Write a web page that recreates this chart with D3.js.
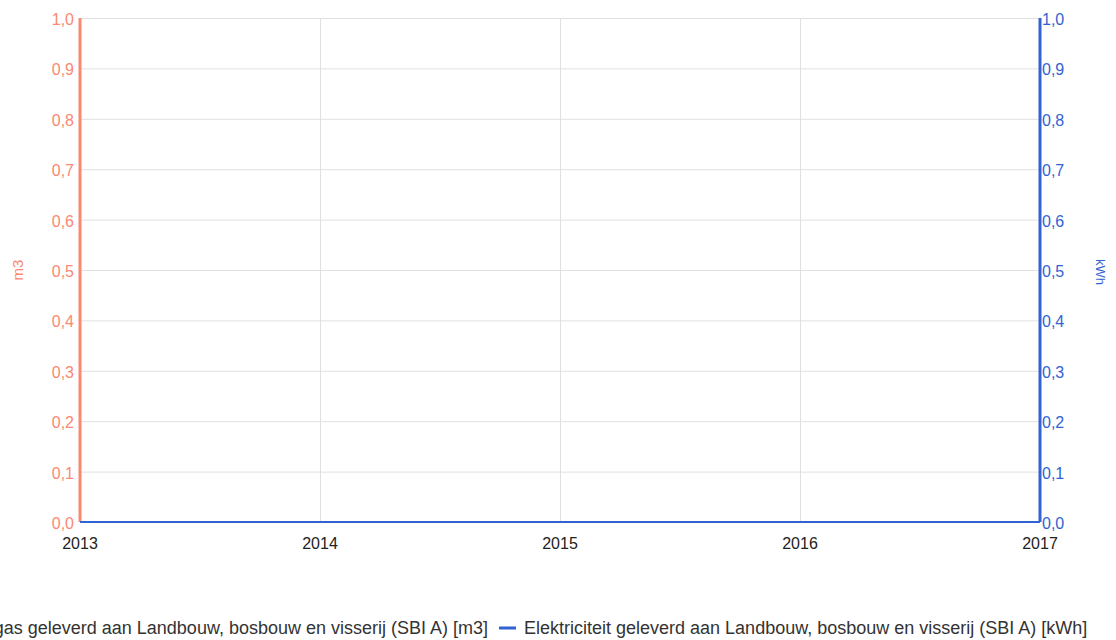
<!DOCTYPE html>
<html>
<head>
<meta charset="utf-8">
<script src="https://cdn.jsdelivr.net/npm/d3@7"></script>
<style>
  body { margin: 0; background: #fff; }
  text { font-family: "Liberation Sans", Arial, sans-serif; }
</style>
</head>
<body>
<svg id="chart" width="1116" height="640"></svg>
<script>
// data
const years = [2013, 2014, 2015, 2016, 2017];
const gasValues = [0, 0, 0, 0, 0];
const elecValues = [0, 0, 0, 0, 0];
const yTicks = [0, 0.1, 0.2, 0.3, 0.4, 0.5, 0.6, 0.7, 0.8, 0.9, 1.0];
const gasName = "Aardgas geleverd aan Landbouw, bosbouw en visserij (SBI A) [m3]";
const elecName = "Elektriciteit geleverd aan Landbouw, bosbouw en visserij (SBI A) [kWh]";

const salmon = "#fa8872", blue = "#3263d2";
const margin = {top: 18, left: 80, right: 76, bottom: 118},
    width = 1116 - margin.left - margin.right,
    height = 640 - margin.top - margin.bottom;

const svg = d3.select("#chart");
const g = svg.append("g").attr("transform", `translate(${margin.left},${margin.top})`);

const x = d3.scaleLinear().domain([2013, 2017]).range([0, width]);
const yL = d3.scaleLinear().domain([0, 1]).range([height, 0]);
const yR = d3.scaleLinear().domain([0, 1]).range([height, 0]);
const fmt = d => d3.format(".1f")(d).replace(".", ",");

// grid
g.append("g").selectAll("line").data(yTicks).enter().append("line")
    .attr("x1", 0).attr("x2", width)
    .attr("y1", d => yL(d) + 0.5).attr("y2", d => yL(d) + 0.5)
    .attr("stroke", "#e0e0e0");
g.append("g").selectAll("line").data(years).enter().append("line")
    .attr("x1", d => x(d) + 0.5).attr("x2", d => x(d) + 0.5)
    .attr("y1", 0).attr("y2", height)
    .attr("stroke", "#e0e0e0");

// x axis labels
g.append("g").selectAll("text").data(years).enter().append("text")
    .attr("x", d => x(d)).attr("y", height + 27)
    .attr("text-anchor", "middle").attr("font-size", 16).attr("fill", "#222")
    .text(d => d);

// left axis
g.append("g").selectAll("text").data(yTicks).enter().append("text")
    .attr("x", -6).attr("y", d => yL(d) + 7)
    .attr("text-anchor", "end").attr("font-size", 16).attr("fill", salmon)
    .text(fmt);
g.append("line").attr("x1", 0).attr("x2", 0).attr("y1", 0).attr("y2", height)
    .attr("stroke", salmon).attr("stroke-width", 3);
g.append("text")
    .attr("transform", `translate(${-57},${height / 2}) rotate(-90)`)
    .attr("text-anchor", "middle").attr("font-size", 15).attr("fill", salmon)
    .text("m3");

// right axis
g.append("g").selectAll("text").data(yTicks).enter().append("text")
    .attr("x", width + 2).attr("y", d => yR(d) + 7)
    .attr("text-anchor", "start").attr("font-size", 16).attr("fill", blue)
    .text(fmt);
g.append("line").attr("x1", width).attr("x2", width).attr("y1", 0).attr("y2", height)
    .attr("stroke", blue).attr("stroke-width", 3);
g.append("text")
    .attr("transform", `translate(${width + 56},${height / 2 + 2}) rotate(90)`)
    .attr("text-anchor", "middle").attr("font-size", 13).attr("fill", blue)
    .text("kWh");

// series
const line = yS => d3.line().x((d, i) => x(years[i])).y(d => yS(d));
g.append("path").datum(gasValues).attr("d", line(yL))
    .attr("fill", "none").attr("stroke", salmon).attr("stroke-width", 2);
g.append("path").datum(elecValues).attr("d", line(yR))
    .attr("fill", "none").attr("stroke", blue).attr("stroke-width", 2);

// legend
const lg = svg.append("g").attr("transform", "translate(0,634)");
const it2 = lg.append("g").attr("transform", "translate(499,0)");
it2.append("line").attr("x1", 0).attr("x2", 17).attr("y1", -6).attr("y2", -6)
    .attr("stroke", blue).attr("stroke-width", 3);
it2.append("text").attr("x", 25).attr("y", 0).attr("font-size", 18).attr("fill", "#333")
    .text(elecName);
const t1 = lg.append("text").attr("x", 488).attr("y", 0).attr("text-anchor", "end")
    .attr("font-size", 18).attr("fill", "#333").text(gasName);
const w1 = t1.node().getComputedTextLength();
lg.append("line").attr("x1", 488 - w1 - 25).attr("x2", 488 - w1 - 8)
    .attr("y1", -6).attr("y2", -6).attr("stroke", salmon).attr("stroke-width", 3);
</script>
</body>
</html>
